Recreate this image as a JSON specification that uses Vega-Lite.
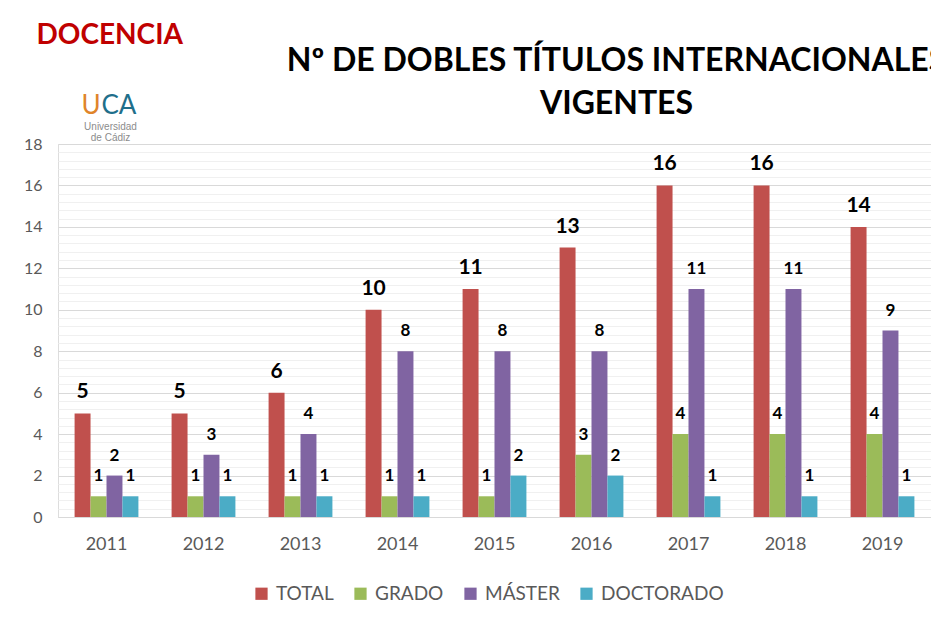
{
  "$schema": "https://vega.github.io/schema/vega-lite/v6.json",
  "width": 873,
  "height": 373,
  "autosize": "none",
  "padding": {"left": 58, "top": 144, "right": 0, "bottom": 100},
  "background": "white",
  "title": {
    "text": ["Nº DE DOBLES TÍTULOS INTERNACIONALES", "VIGENTES"],
    "anchor": "middle",
    "frame": "group",
    "dx": 122,
    "dy": 120,
    "font": "Lato",
    "fontSize": 32,
    "fontWeight": "bold",
    "color": "#000000",
    "lineHeight": 43,
    "offset": 20
  },
  "data": {
    "values": [
      {"anio": "2011", "serie": "TOTAL", "valor": 5},
      {"anio": "2011", "serie": "GRADO", "valor": 1},
      {"anio": "2011", "serie": "MÁSTER", "valor": 2},
      {"anio": "2011", "serie": "DOCTORADO", "valor": 1},
      {"anio": "2012", "serie": "TOTAL", "valor": 5},
      {"anio": "2012", "serie": "GRADO", "valor": 1},
      {"anio": "2012", "serie": "MÁSTER", "valor": 3},
      {"anio": "2012", "serie": "DOCTORADO", "valor": 1},
      {"anio": "2013", "serie": "TOTAL", "valor": 6},
      {"anio": "2013", "serie": "GRADO", "valor": 1},
      {"anio": "2013", "serie": "MÁSTER", "valor": 4},
      {"anio": "2013", "serie": "DOCTORADO", "valor": 1},
      {"anio": "2014", "serie": "TOTAL", "valor": 10},
      {"anio": "2014", "serie": "GRADO", "valor": 1},
      {"anio": "2014", "serie": "MÁSTER", "valor": 8},
      {"anio": "2014", "serie": "DOCTORADO", "valor": 1},
      {"anio": "2015", "serie": "TOTAL", "valor": 11},
      {"anio": "2015", "serie": "GRADO", "valor": 1},
      {"anio": "2015", "serie": "MÁSTER", "valor": 8},
      {"anio": "2015", "serie": "DOCTORADO", "valor": 2},
      {"anio": "2016", "serie": "TOTAL", "valor": 13},
      {"anio": "2016", "serie": "GRADO", "valor": 3},
      {"anio": "2016", "serie": "MÁSTER", "valor": 8},
      {"anio": "2016", "serie": "DOCTORADO", "valor": 2},
      {"anio": "2017", "serie": "TOTAL", "valor": 16},
      {"anio": "2017", "serie": "GRADO", "valor": 4},
      {"anio": "2017", "serie": "MÁSTER", "valor": 11},
      {"anio": "2017", "serie": "DOCTORADO", "valor": 1},
      {"anio": "2018", "serie": "TOTAL", "valor": 16},
      {"anio": "2018", "serie": "GRADO", "valor": 4},
      {"anio": "2018", "serie": "MÁSTER", "valor": 11},
      {"anio": "2018", "serie": "DOCTORADO", "valor": 1},
      {"anio": "2019", "serie": "TOTAL", "valor": 14},
      {"anio": "2019", "serie": "GRADO", "valor": 4},
      {"anio": "2019", "serie": "MÁSTER", "valor": 9},
      {"anio": "2019", "serie": "DOCTORADO", "valor": 1}
    ]
  },
  "encoding": {
    "xOffset": {
      "field": "serie",
      "type": "nominal",
      "sort": ["TOTAL", "GRADO", "MÁSTER", "DOCTORADO"],
      "scale": {"paddingInner": 0, "paddingOuter": 0}
    }
  },
  "layer": [
    {
      "mark": {"type": "bar"},
      "encoding": {
        "x": {
          "field": "anio",
          "type": "nominal",
          "scale": {"paddingInner": 0.342, "paddingOuter": 0.171},
          "axis": {
            "title": ["Universidad", "de Cádiz"],
            "titleX": 52,
            "titleY": -388,
            "titleAlign": "center",
            "titleBaseline": "alphabetic",
            "titleFont": "Liberation Sans",
            "titleFontSize": 10,
            "titleFontWeight": "normal",
            "titleColor": "#8c8c8c",
            "titleLineHeight": 11,
            "labelAngle": 0,
            "labelFont": "Lato",
            "labelFontSize": 18,
            "labelColor": "#595959",
            "labelPadding": 18,
            "ticks": false,
            "domainColor": "#d9d9d9",
            "grid": false
          }
        },
        "y": {
          "field": "valor",
          "type": "quantitative",
          "scale": {"domain": [0, 18], "nice": false},
          "axis": {
            "values": [0, 2, 4, 6, 8, 10, 12, 14, 16, 18],
            "title": "DOCENCIA",
            "titleAngle": 0,
            "titleX": -22,
            "titleY": -101,
            "titleAlign": "left",
            "titleBaseline": "alphabetic",
            "titleFont": "Lato",
            "titleFontSize": 28,
            "titleFontWeight": "bold",
            "titleColor": "#c00000",
            "labelFont": "Lato",
            "labelFontSize": 16,
            "labelColor": "#595959",
            "labelPadding": 16,
            "ticks": false,
            "domain": false,
            "grid": true,
            "gridColor": "#d9d9d9",
            "gridWidth": 1
          }
        },
        "color": {
          "field": "serie",
          "type": "nominal",
          "sort": ["TOTAL", "GRADO", "MÁSTER", "DOCTORADO"],
          "scale": {
            "domain": ["TOTAL", "GRADO", "MÁSTER", "DOCTORADO"],
            "range": ["#c0504d", "#9bbb59", "#8064a2", "#4bacc6"]
          },
          "legend": {
            "title": null,
            "orient": "none",
            "legendX": 194,
            "legendY": 440,
            "direction": "horizontal",
            "symbolType": "square",
            "symbolSize": 150,
            "symbolStrokeWidth": 0,
            "labelFont": "Lato",
            "labelFontSize": 19,
            "labelColor": "#595959",
            "labelOffset": 5,
            "columnPadding": 17
          }
        }
      }
    },
    {
      "mark": {
        "type": "text",
        "font": "Lato",
        "fontWeight": "bold",
        "color": "#000000",
        "baseline": "alphabetic",
        "dy": -15
      },
      "encoding": {
        "x": {
          "field": "anio",
          "type": "nominal",
          "axis": {
            "title": "U",
            "titleX": 23,
            "titleY": -31,
            "titleAlign": "left",
            "titleBaseline": "alphabetic",
            "titleFont": "Lato",
            "titleFontSize": 26,
            "titleFontWeight": "normal",
            "titleColor": "#e0852a",
            "labels": false,
            "ticks": false,
            "domain": false,
            "grid": false
          }
        },
        "y": {
          "field": "valor",
          "type": "quantitative",
          "axis": {
            "values": [0.4, 0.8, 1.2, 1.6, 2.4, 2.8, 3.2, 3.6, 4.4, 4.8, 5.2, 5.6, 6.4, 6.8, 7.2, 7.6, 8.4, 8.8, 9.2, 9.6, 10.4, 10.8, 11.2, 11.6, 12.4, 12.8, 13.2, 13.6, 14.4, 14.8, 15.2, 15.6, 16.4, 16.8, 17.2, 17.6],
            "title": "CA",
            "titleAngle": 0,
            "titleX": -830,
            "titleY": -31,
            "titleAlign": "left",
            "titleBaseline": "alphabetic",
            "titleFont": "Lato",
            "titleFontSize": 26,
            "titleFontWeight": "normal",
            "titleColor": "#1f6f8b",
            "labels": false,
            "ticks": false,
            "domain": false,
            "grid": true,
            "gridColor": "#f0f0f0",
            "gridWidth": 1
          }
        },
        "text": {"field": "valor", "type": "quantitative"},
        "size": {
          "condition": {"test": "datum.serie === 'TOTAL'", "value": 21},
          "value": 17
        }
      }
    }
  ],
  "resolve": {"axis": {"x": "independent", "y": "independent"}}
}
